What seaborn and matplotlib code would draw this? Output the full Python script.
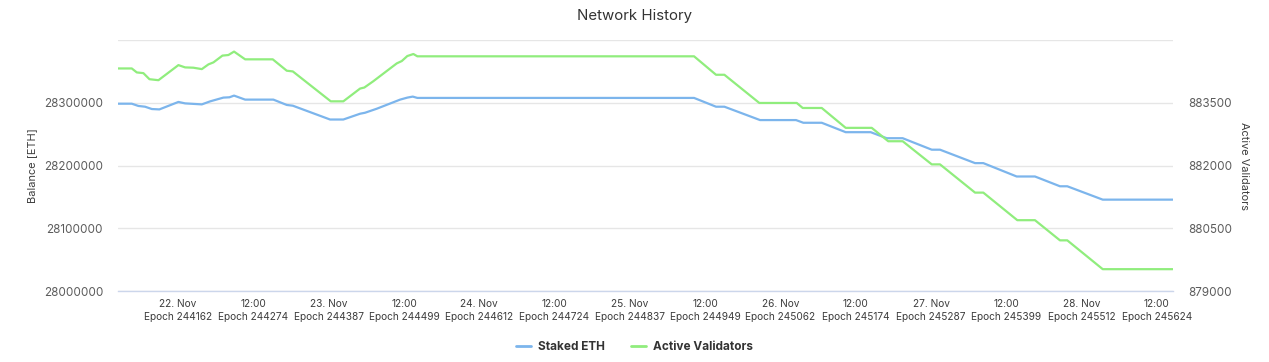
import pandas as pd
import matplotlib.pyplot as plt
import seaborn as sns
from matplotlib.lines import Line2D

# staked ETH (left axis)
staked_time = [
    "2023-11-21 14:20", "2023-11-21 16:37", "2023-11-21 17:40", "2023-11-21 18:44",
    "2023-11-21 19:49", "2023-11-21 21:01", "2023-11-22 00:03", "2023-11-22 01:07",
    "2023-11-22 03:47", "2023-11-22 05:06", "2023-11-22 07:13", "2023-11-22 08:11",
    "2023-11-22 08:55", "2023-11-22 10:41", "2023-11-22 15:11", "2023-11-22 17:19",
    "2023-11-22 18:17", "2023-11-23 00:13", "2023-11-23 02:20", "2023-11-23 05:00",
    "2023-11-23 05:48", "2023-11-23 07:40", "2023-11-23 11:23", "2023-11-23 12:32",
    "2023-11-23 13:24", "2023-11-23 14:08", "2023-11-25 10:14", "2023-11-25 13:44",
    "2023-11-25 15:04", "2023-11-25 20:45", "2023-11-26 02:29", "2023-11-26 03:39",
    "2023-11-26 06:35", "2023-11-26 10:24", "2023-11-26 14:23", "2023-11-26 16:56",
    "2023-11-26 19:29", "2023-11-27 00:07", "2023-11-27 01:26", "2023-11-27 07:01",
    "2023-11-27 08:20", "2023-11-27 13:39", "2023-11-27 16:34", "2023-11-27 20:33",
    "2023-11-27 21:43", "2023-11-28 03:22", "2023-11-28 14:31",
]
staked_eth = [
    28298500, 28298500, 28294900, 28293700, 28290000, 28289400, 28301300, 28299000,
    28297400, 28302200, 28308200, 28308700, 28311400, 28305000, 28305000, 28296500,
    28295300, 28273300, 28273300, 28282500, 28284100, 28290500, 28305000, 28308200,
    28309800, 28307700, 28307700, 28293700, 28293700, 28272400, 28272400, 28268100,
    28268100, 28253100, 28253100, 28243500, 28243500, 28225200, 28225200, 28203800,
    28203800, 28182500, 28182500, 28166900, 28166900, 28145600, 28145600,
]

# active validators (right axis)
validator_time = [
    "2023-11-21 14:20", "2023-11-21 16:37", "2023-11-21 17:25", "2023-11-21 18:28",
    "2023-11-21 19:26", "2023-11-21 20:52", "2023-11-22 00:03", "2023-11-22 01:07",
    "2023-11-22 02:26", "2023-11-22 03:47", "2023-11-22 04:50", "2023-11-22 05:38",
    "2023-11-22 07:04", "2023-11-22 08:01", "2023-11-22 08:55", "2023-11-22 10:41",
    "2023-11-22 15:05", "2023-11-22 17:19", "2023-11-22 18:17", "2023-11-23 00:20",
    "2023-11-23 02:20", "2023-11-23 05:00", "2023-11-23 05:41", "2023-11-23 07:07",
    "2023-11-23 10:51", "2023-11-23 11:39", "2023-11-23 12:32", "2023-11-23 13:30",
    "2023-11-23 14:08", "2023-11-25 10:14", "2023-11-25 13:44", "2023-11-25 15:04",
    "2023-11-25 20:38", "2023-11-26 02:36", "2023-11-26 03:33", "2023-11-26 06:35",
    "2023-11-26 10:24", "2023-11-26 14:33", "2023-11-26 17:11", "2023-11-26 19:29",
    "2023-11-27 00:07", "2023-11-27 01:26", "2023-11-27 07:01", "2023-11-27 08:20",
    "2023-11-27 13:45", "2023-11-27 16:34", "2023-11-27 20:33", "2023-11-27 21:43",
    "2023-11-28 03:22", "2023-11-28 14:31",
]
active_validators = [
    884320, 884320, 884225, 884208, 884063, 884039, 884400, 884345,
    884338, 884304, 884417, 884465, 884627, 884641, 884723, 884538,
    884538, 884266, 884249, 883534, 883534, 883839, 883864, 884015,
    884441, 884497, 884617, 884665, 884610, 884610, 884169, 884169,
    883495, 883495, 883375, 883375, 882900, 882900, 882580, 882580,
    882027, 882027, 881352, 881352, 880693, 880693, 880211, 880211,
    879522, 879522,
]

tick_time = pd.date_range("2023-11-22 00:00", "2023-11-28 12:00", freq="12h")
tick_labels = [
    "22. Nov\nEpoch 244162", "12:00\nEpoch 244274",
    "23. Nov\nEpoch 244387", "12:00\nEpoch 244499",
    "24. Nov\nEpoch 244612", "12:00\nEpoch 244724",
    "25. Nov\nEpoch 244837", "12:00\nEpoch 244949",
    "26. Nov\nEpoch 245062", "12:00\nEpoch 245174",
    "27. Nov\nEpoch 245287", "12:00\nEpoch 245399",
    "28. Nov\nEpoch 245512", "12:00\nEpoch 245624",
]
balance_ticks = [28000000, 28100000, 28200000, 28300000, 28400000]
validator_ticks = [879000, 880500, 882000, 883500, 885000]

blue = "#7cb5ec"
green = "#90ed7d"

sns.set_theme(style="white")
plt.rcParams["font.family"] = ["Inter", "DejaVu Sans"]

fig = plt.figure(figsize=(12.69, 3.62), dpi=100)
ax = fig.add_axes([0.0928, 0.1961, 0.8318, 0.6934])
ax2 = ax.twinx()

sns.lineplot(x=pd.to_datetime(staked_time), y=staked_eth, ax=ax, color=blue, lw=1.6)
sns.lineplot(x=pd.to_datetime(validator_time), y=active_validators, ax=ax2, color=green, lw=1.6)

ax.set_xlim(pd.Timestamp("2023-11-21 14:23"), pd.Timestamp("2023-11-28 14:37"))
ax.set_ylim(28000000, 28400000)
ax2.set_ylim(879000, 885000)

# top gridline has no label
ax.set_yticks(balance_ticks)
ax.set_yticklabels([str(v) for v in balance_ticks[:-1]] + [""])
ax2.set_yticks(validator_ticks)
ax2.set_yticklabels([str(v) for v in validator_ticks[:-1]] + [""])

ax.set_xticks(tick_time)
ax.set_xticklabels(tick_labels)
for t in ax.get_xticklabels():
    t.set_linespacing(1.3)

ax.yaxis.grid(True, color="#e6e6e6", lw=1)
ax.set_axisbelow(True)
for a in (ax, ax2):
    for s in ("top", "left", "right"):
        a.spines[s].set_visible(False)
ax2.spines["bottom"].set_visible(False)
ax.spines["bottom"].set_color("#ccd6eb")
ax.spines["bottom"].set_linewidth(1)

ax.tick_params(axis="x", length=7.5, width=0.8, color="#ccd6eb", labelcolor="#3d3d3d",
               labelsize=7.3, pad=-1.5)
ax.tick_params(axis="y", length=0, labelcolor="#5c5c5c", labelsize=8.4, pad=10.6)
ax2.tick_params(axis="y", length=0, labelcolor="#5c5c5c", labelsize=8.4, pad=10.4)

ax.set_xlabel("")
ax.set_ylabel("Balance [ETH]", fontsize=7.9, color="#3d3d3d")
ax.yaxis.label.set_va("center")
ax.yaxis.set_label_coords(-0.0812, 0.5)
ax2.set_ylabel("Active Validators", fontsize=7.9, color="#3d3d3d", rotation=270)
ax2.yaxis.label.set_va("center")
ax2.yaxis.set_label_coords(1.067, 0.5)

fig.text(0.5, 1 - 16 / 362, "Network History", ha="center", va="center",
         fontsize=10.8, color="#333333")

handles = [Line2D([], [], color=blue, lw=2), Line2D([], [], color=green, lw=2)]
fig.legend(handles, ["Staked ETH", "Active Validators"], loc="center",
           bbox_to_anchor=(0.5, 1 - 347.5 / 362), ncol=2, frameon=False,
           prop={"weight": "bold", "size": 8.5}, labelcolor="#333333",
           handlelength=1.3, handletextpad=0.6, columnspacing=2.2)

fig.savefig("out.png", dpi=100)
